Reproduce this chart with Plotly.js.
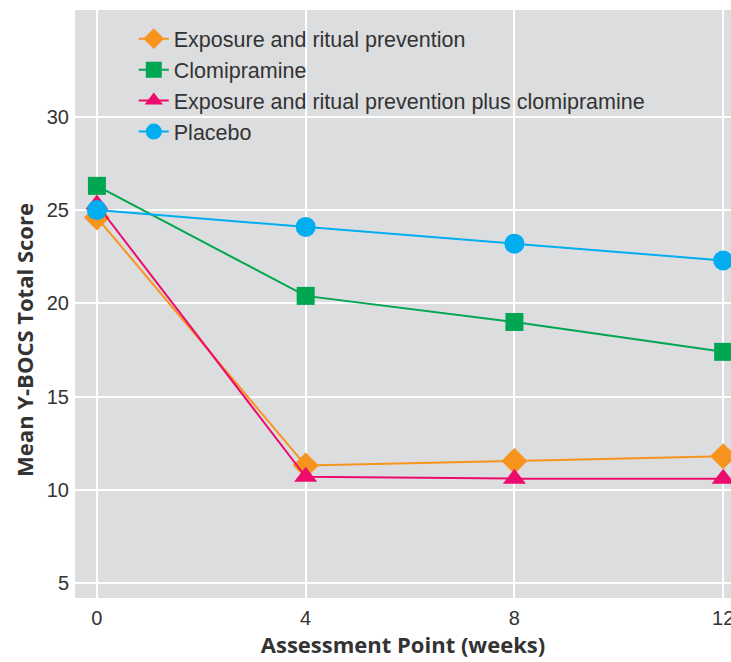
<!DOCTYPE html>
<html>
<head>
<meta charset="utf-8">
<script src="https://cdn.plot.ly/plotly-3.0.1.min.js"></script>
<style>html,body{margin:0;padding:0;background:#fff;}#chart{width:731px;height:662px;}</style>
</head>
<body>
<div id="chart"></div>
<script>
var weeks = [0, 4, 8, 12];
var seriesNames = ["Exposure and ritual prevention", "Clomipramine", "Exposure and ritual prevention plus clomipramine", "Placebo"];
var exposure = [24.6, 11.3, 11.55, 11.8];
var clomipramine = [26.3, 20.4, 19.0, 17.4];
var combined = [25.3, 10.7, 10.6, 10.6];
var placebo = [25.0, 24.1, 23.2, 22.3];
var xTicks = [0, 4, 8, 12];
var yTicks = [5, 10, 15, 20, 25, 30];
var xTitle = "Assessment Point (weeks)";
var yTitle = "Mean Y-BOCS Total Score";

var colors = ["#f7941d", "#00a651", "#ec0c6e", "#00aeef"];
var symbols = ["diamond", "square", "triangle-up", "circle"];
var sizes = [20, 18, 20, 20];
var data = [exposure, clomipramine, combined, placebo];

var traces = [];
for (var i = 0; i < 4; i++) {
  traces.push({
    x: weeks, y: data[i], name: seriesNames[i], type: "scatter", mode: "lines+markers",
    line: {color: colors[i], width: 2},
    marker: {symbol: symbols[i], size: sizes[i], color: colors[i], line: {width: 0}},
    cliponaxis: false
  });
}

var txt = "#333333";
var sans = "Liberation Sans, Arial, sans-serif";
var titleFont = {family: "Open Sans, sans-serif", size: 22, color: txt, weight: 700};

var layout = {
  width: 731, height: 662,
  margin: {l: 75, r: 0, t: 10, b: 64},
  paper_bgcolor: "#ffffff",
  plot_bgcolor: "#dcdddf",
  font: {family: sans, color: txt, size: 18},
  showlegend: true,
  legend: {x: 0.0896, y: 0.986, xanchor: "left", yanchor: "top", bgcolor: "rgba(0,0,0,0)",
           font: {family: sans, size: 21.5, color: txt},
           tracegroupgap: 0, traceorder: "normal"},
  xaxis: {
    range: [-0.42, 12.15], tickvals: xTicks, ticktext: xTicks.map(String),
    showgrid: true, gridcolor: "#ffffff", gridwidth: 2, zeroline: false, showline: false,
    ticks: "", ticklabelstandoff: 6, ticklabeloverflow: "allow",
    tickfont: {family: sans, size: 20, color: txt},
    title: {text: xTitle, standoff: 6, font: titleFont}
  },
  yaxis: {
    range: [4.2, 35.73], tickvals: yTicks, ticktext: yTicks.map(String),
    showgrid: true, gridcolor: "#ffffff", gridwidth: 2, zeroline: false, showline: false,
    ticks: "", ticklabelstandoff: 5,
    tickfont: {family: sans, size: 20, color: txt}
  },
  annotations: [{
    text: yTitle, xref: "paper", yref: "paper", x: -0.0777, y: 0.439,
    xanchor: "center", yanchor: "middle", textangle: -90, showarrow: false,
    font: titleFont
  }]
};

Plotly.newPlot("chart", traces, layout, {displayModeBar: false, staticPlot: true});
</script>
</body>
</html>
